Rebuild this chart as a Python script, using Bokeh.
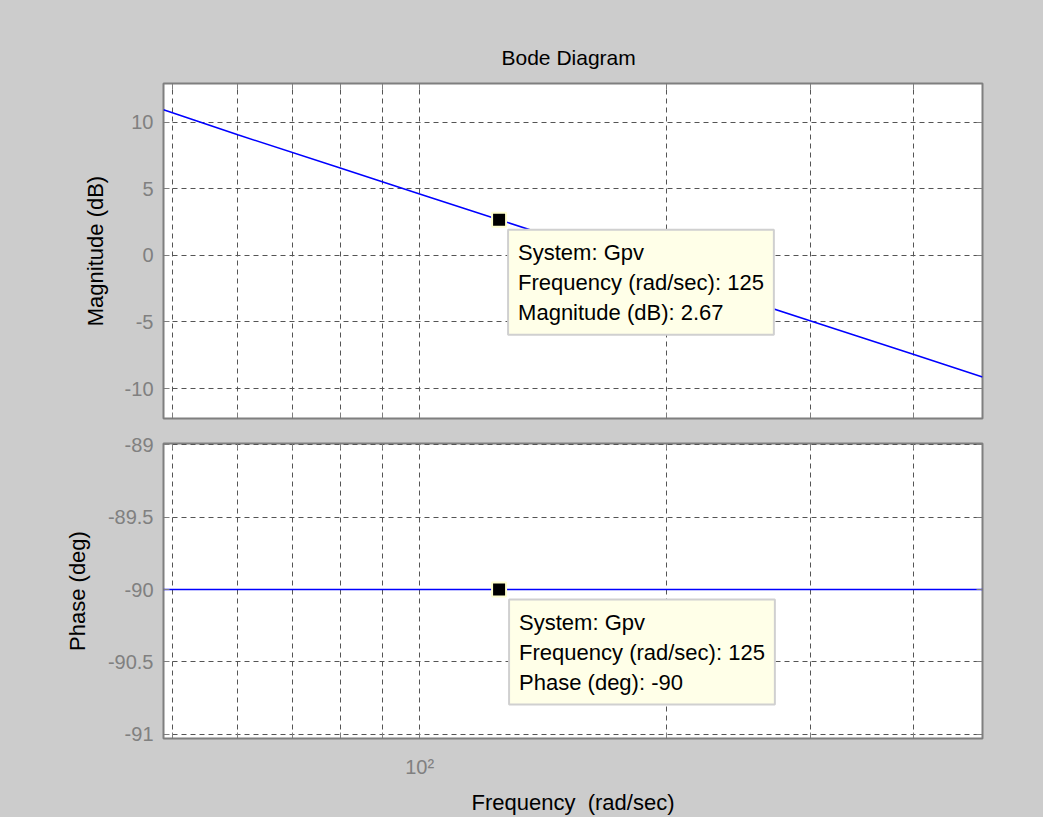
from bokeh.plotting import figure
from bokeh.layouts import column
from bokeh.models import (FixedTicker, CustomJSTickFormatter, Range1d, Label,
                          LinearAxis, LogAxis)
from bokeh.embed import file_html
from bokeh.resources import INLINE

# ---- data ----
freq = [48.7, 60, 80, 100, 125, 200, 300, 400, 486]
mag_db = [10.93, 9.05, 6.55, 4.61, 2.67, -1.41, -4.93, -7.43, -9.13]
phase_deg = [-90, -90, -90, -90, -90, -90, -90, -90, -90]
tip_freq = [125]
tip_mag = [2.67]
tip_phase = [-90]
system_name = "Gpv"
x_ticks = [50, 60, 70, 80, 90, 100, 200, 300, 400]
x_tick_label = {100: "10²"}
mag_ticks = [-10, -5, 0, 5, 10]
phase_ticks = [-91, -90.5, -90, -89.5, -89]
x_lim = (48.7, 486)
mag_lim = (-12.25, 12.9)
phase_lim = (-91.03, -88.99)

FONT = "Liberation Sans"
BG = "#cccccc"
AXC = "#7f7f7f"
GRIDC = "#555555"

NUM_FMT = "return Number.isInteger(tick) ? tick.toFixed(0) : tick.toFixed(1);"
BLANK_FMT = "return '';"


def style_axis(ax, show_labels=True):
    ax.axis_line_color = None
    ax.major_tick_in = 6
    ax.major_tick_out = 0
    ax.major_tick_line_color = AXC
    ax.major_tick_line_width = 1
    ax.minor_tick_line_color = None
    ax.major_label_text_color = "#808080"
    ax.major_label_text_font = FONT
    ax.major_label_text_font_size = "20px"
    ax.major_label_standoff = 10 if show_labels else 0
    ax.axis_label_text_font = FONT
    ax.axis_label_text_font_size = "22px"
    ax.axis_label_text_font_style = "normal"
    ax.axis_label_text_color = "black"
    if not show_labels:
        ax.formatter = CustomJSTickFormatter(code=BLANK_FMT)


def make_fig(height, ylim, yticks, top, bottom):
    p = figure(width=1043, height=height, x_axis_type="log",
               x_range=Range1d(*x_lim), y_range=Range1d(*ylim),
               output_backend="svg", toolbar_location=None,
               min_border_left=163, min_border_right=61,
               min_border_top=top, min_border_bottom=bottom,
               border_fill_color=BG, background_fill_color="white",
               outline_line_color=AXC, outline_line_width=2,
               styles={"background-color": BG})
    xt = FixedTicker(ticks=x_ticks, minor_ticks=[])
    yt = FixedTicker(ticks=yticks, minor_ticks=[])
    bx = p.below[0]
    ly = p.left[0]
    bx.ticker = xt
    ly.ticker = yt
    for g in (p.xgrid, p.ygrid):
        g.grid_line_color = GRIDC
        g.grid_line_dash = "5 4"
        g.grid_line_width = 1
    style_axis(bx)
    style_axis(ly)
    ly.formatter = CustomJSTickFormatter(code=NUM_FMT)
    ra = LinearAxis(ticker=yt)
    style_axis(ra, False)
    p.add_layout(ra, "right")
    ta = LogAxis(ticker=xt)
    style_axis(ta, False)
    p.add_layout(ta, "above")
    return p, bx, ly


# ---- magnitude panel ----
p1, bx1, ly1 = make_fig(430, mag_lim, mag_ticks, 83, 12)
bx1.formatter = CustomJSTickFormatter(code=BLANK_FMT)
bx1.major_label_standoff = 0
ly1.axis_label = "Magnitude (dB)"
ly1.axis_label_standoff = 14
p1.title.text = "Bode Diagram"
p1.title.align = "left"
p1.title.offset = 338
p1.title.text_font = FONT
p1.title.text_font_size = "21px"
p1.title.text_font_style = "normal"
p1.title.text_color = "black"
p1.title.standoff = 30
p1.line(freq, mag_db, line_color="#0000ff", line_width=1.5)
p1.scatter(tip_freq, tip_mag, marker="square", size=14, fill_color="black",
           line_color="#ffffd0", line_width=2)
p1.add_layout(Label(
    x=tip_freq[0], y=tip_mag[0], x_offset=9, y_offset=-10,
    text=f"System: {system_name}\nFrequency (rad/sec): {tip_freq[0]}\nMagnitude (dB): {tip_mag[0]}",
    text_font=FONT, text_font_size="22px", text_line_height=1.2,
    text_align="left", text_baseline="top", text_color="black",
    background_fill_color="#ffffe8", border_line_color="#d0d0d0",
    border_line_width=2, padding=10))

# ---- phase panel ----
p2, bx2, ly2 = make_fig(387, phase_lim, phase_ticks, 13, 79)
bx2.formatter = CustomJSTickFormatter(
    args=dict(lab={str(k): v for k, v in x_tick_label.items()}),
    code="const k = String(Math.round(tick)); return (k in lab) ? lab[k] : '';")
bx2.major_label_standoff = 17
bx2.axis_label = "Frequency \u00a0(rad/sec)"
bx2.axis_label_standoff = 9
ly2.axis_label = "Phase (deg)"
ly2.axis_label_standoff = 15
p2.line(freq, phase_deg, line_color="#0000ff", line_width=1.5)
p2.scatter(tip_freq, tip_phase, marker="square", size=14, fill_color="black",
           line_color="#ffffd0", line_width=2)
p2.add_layout(Label(
    x=tip_freq[0], y=tip_phase[0], x_offset=10, y_offset=-10,
    text=f"System: {system_name}\nFrequency (rad/sec): {tip_freq[0]}\nPhase (deg): {tip_phase[0]}",
    text_font=FONT, text_font_size="22px", text_line_height=1.2,
    text_align="left", text_baseline="top", text_color="black",
    background_fill_color="#ffffe8", border_line_color="#d0d0d0",
    border_line_width=2, padding=10))

layout = column(p1, p2, spacing=0, styles={"background-color": BG})
open("out.html", "w").write(file_html(layout, INLINE))
